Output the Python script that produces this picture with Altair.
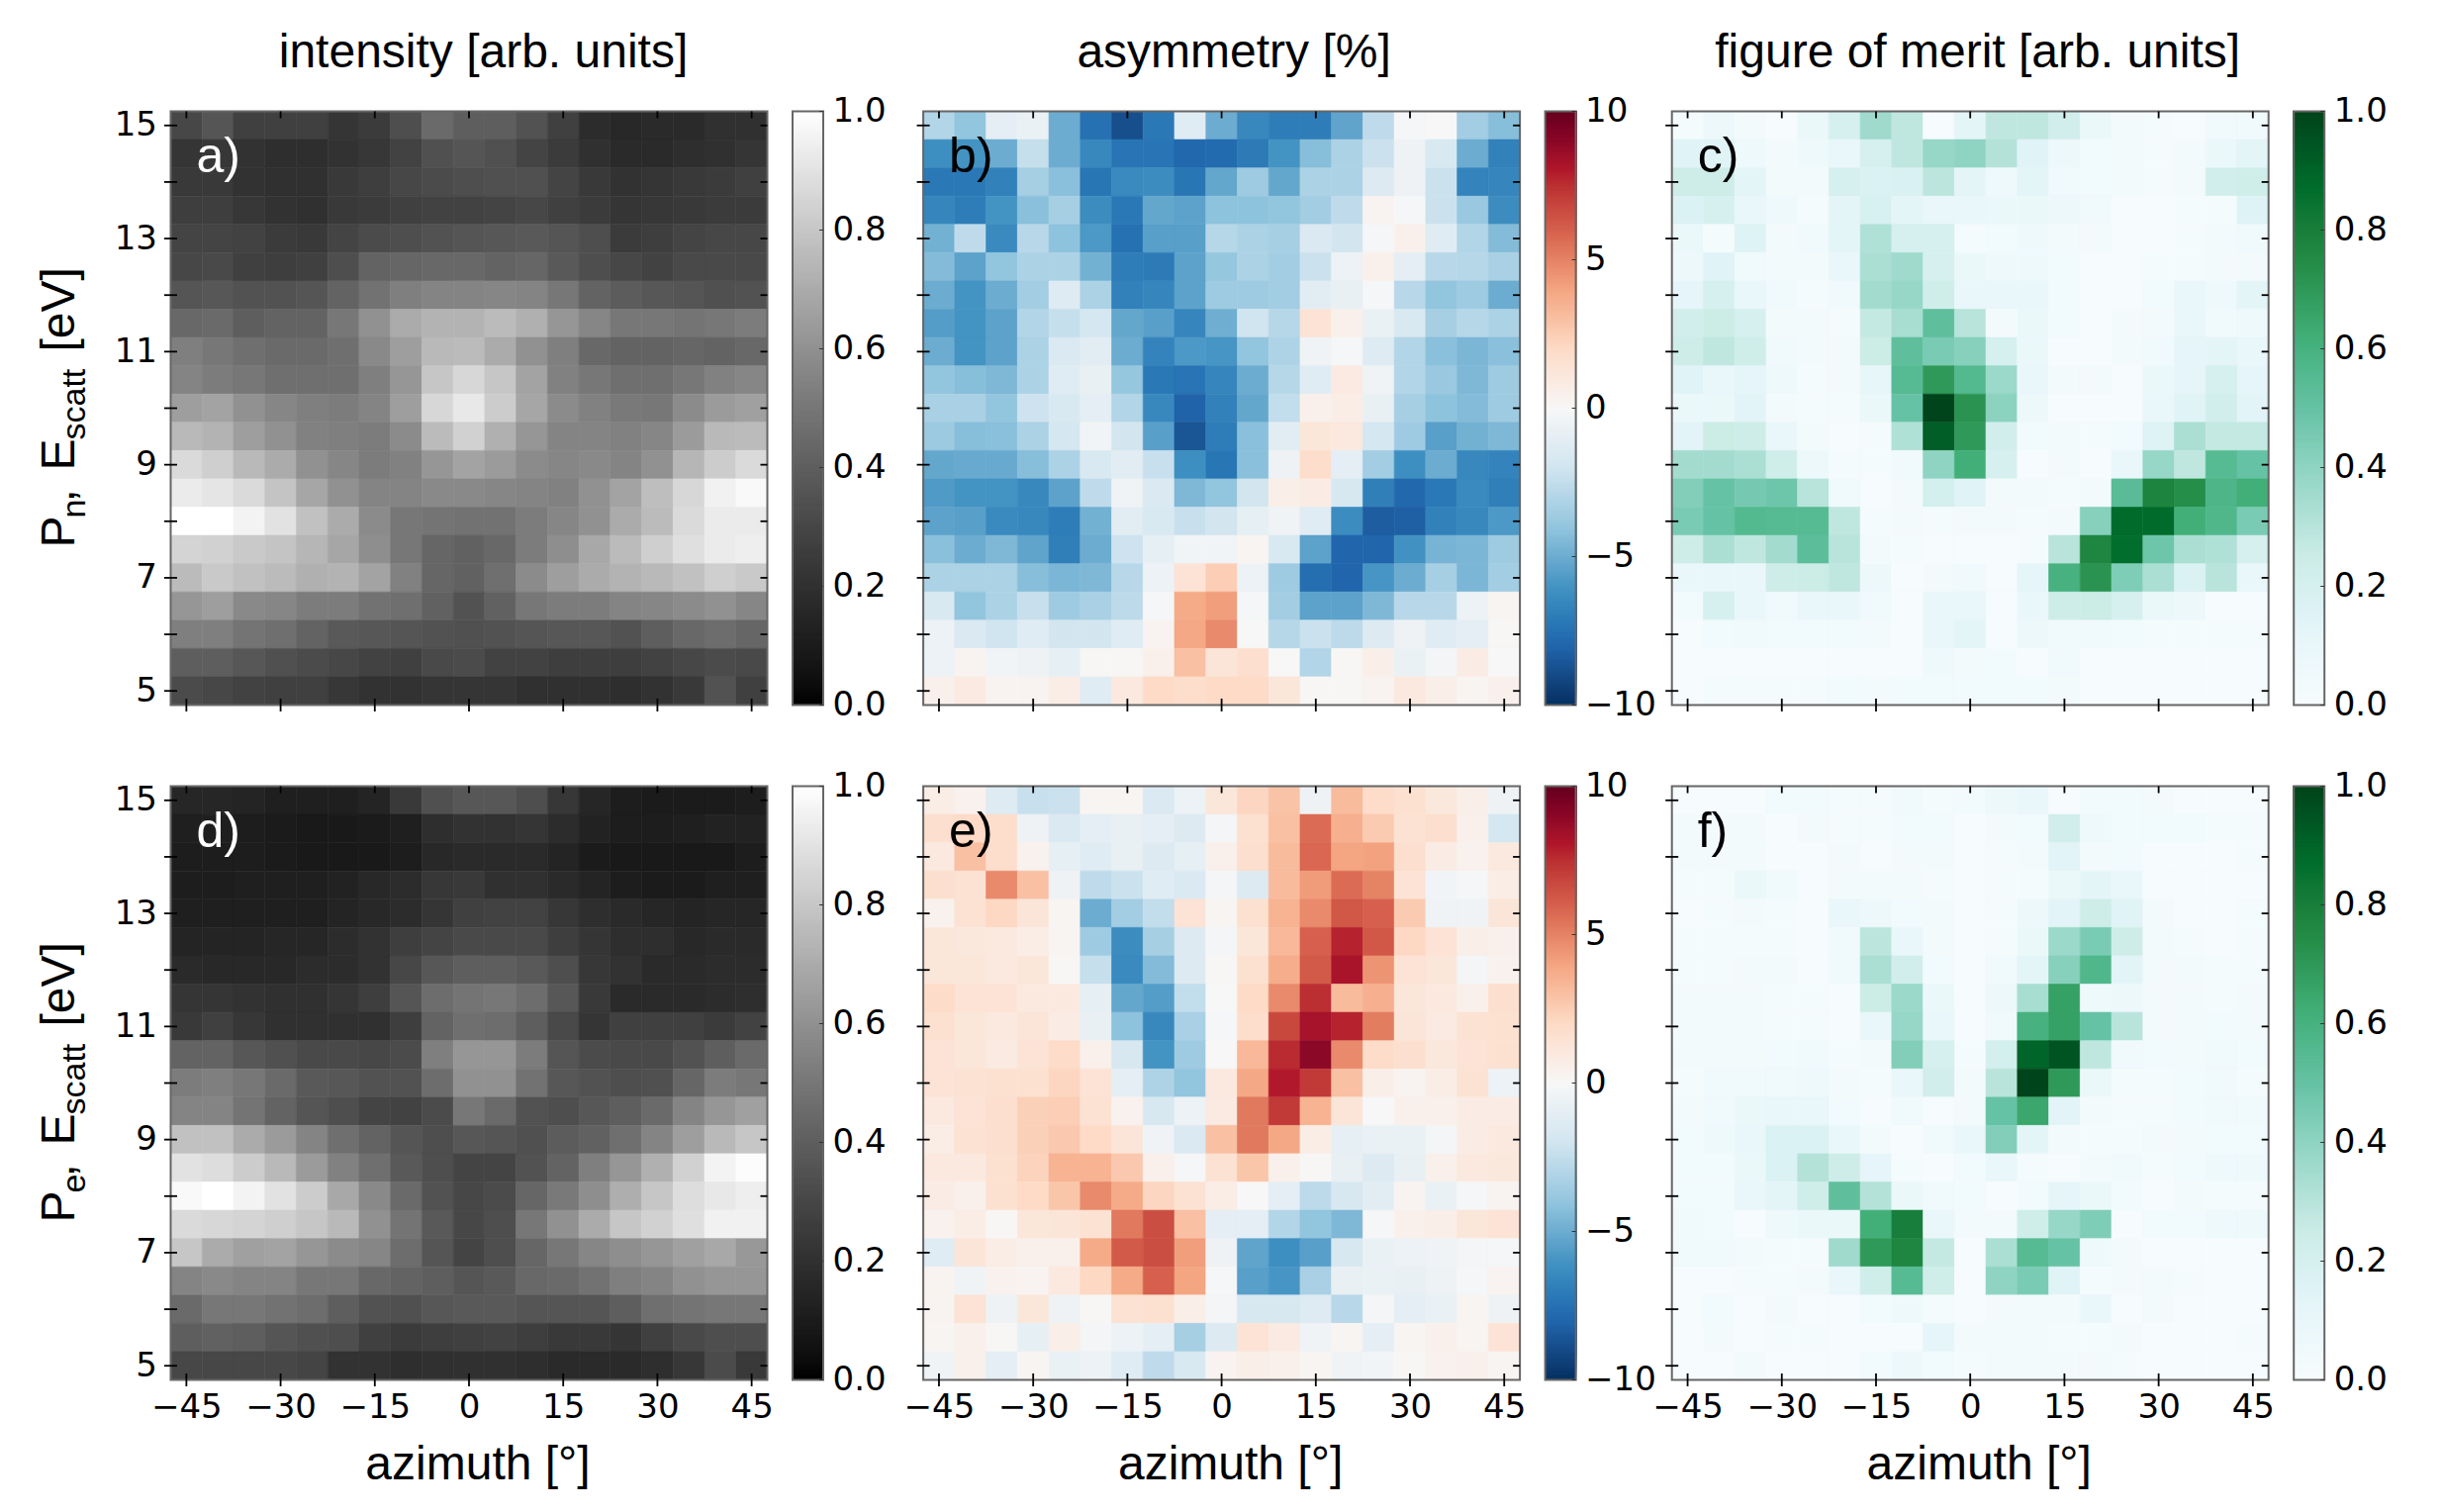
import altair as alt
import numpy as np
import pandas as pd

azimuth = list(range(-45, 50, 5))
energy = [15 - 0.5 * i for i in range(21)]
x_ticks = [-45, -30, -15, 0, 15, 30, 45]
y_ticks = [5, 6, 7, 8, 9, 10, 11, 12, 13, 14, 15]

intensity_n = [
    [.30,.36,.27,.27,.27,.22,.25,.33,.45,.40,.40,.35,.27,.18,.16,.17,.17,.20,.20],
    [.22,.23,.21,.19,.19,.21,.23,.28,.34,.36,.34,.29,.25,.20,.17,.17,.19,.20,.22],
    [.24,.24,.21,.20,.20,.24,.26,.30,.32,.33,.34,.34,.29,.24,.21,.22,.24,.25,.27],
    [.26,.26,.23,.21,.20,.24,.25,.27,.28,.28,.29,.30,.27,.25,.22,.23,.24,.25,.25],
    [.29,.29,.28,.25,.24,.29,.32,.33,.35,.36,.37,.38,.36,.33,.25,.26,.29,.30,.30],
    [.30,.31,.27,.26,.27,.33,.42,.43,.44,.44,.42,.43,.38,.33,.30,.28,.31,.31,.31],
    [.36,.37,.35,.35,.36,.42,.48,.53,.55,.55,.56,.55,.50,.42,.39,.37,.36,.34,.35],
    [.44,.45,.40,.42,.42,.50,.60,.70,.73,.73,.76,.72,.62,.56,.50,.50,.49,.50,.52],
    [.53,.50,.47,.45,.45,.47,.57,.65,.75,.76,.70,.60,.53,.44,.42,.42,.43,.42,.44],
    [.55,.52,.50,.47,.47,.47,.53,.62,.80,.86,.80,.67,.54,.50,.47,.47,.50,.54,.56],
    [.65,.67,.60,.56,.53,.52,.55,.65,.86,.92,.82,.68,.58,.54,.51,.50,.58,.64,.66],
    [.75,.73,.65,.60,.54,.53,.52,.58,.76,.84,.72,.62,.55,.55,.54,.56,.64,.75,.76],
    [.87,.83,.75,.70,.60,.56,.52,.54,.62,.67,.64,.58,.56,.57,.55,.60,.74,.82,.87],
    [.93,.91,.87,.79,.68,.60,.55,.55,.57,.57,.56,.55,.54,.60,.67,.77,.86,.95,.98],
    [1.0,1.0,.96,.90,.78,.70,.58,.50,.49,.48,.48,.52,.56,.60,.70,.76,.87,.93,.93],
    [.85,.84,.81,.79,.74,.68,.59,.50,.43,.41,.44,.52,.59,.69,.76,.83,.89,.93,.94],
    [.76,.81,.78,.76,.72,.73,.67,.54,.43,.41,.47,.58,.65,.70,.73,.75,.78,.83,.81],
    [.62,.65,.57,.56,.52,.52,.48,.47,.41,.35,.41,.50,.52,.52,.55,.56,.58,.60,.56],
    [.53,.53,.49,.47,.42,.38,.37,.36,.35,.34,.35,.36,.37,.37,.35,.40,.44,.46,.43],
    [.40,.40,.37,.34,.32,.30,.28,.27,.31,.32,.28,.28,.26,.26,.26,.28,.30,.32,.31],
    [.32,.30,.28,.27,.27,.23,.21,.21,.22,.22,.22,.20,.20,.20,.19,.21,.24,.35,.27],
]

asym_n = [
    [-3,-4,-1,-.7,-5,-7.5,-8.8,-7.2,-1.2,-5,-6.5,-7,-7,-5.3,-2.6,-.1,0,-3.5,-4.3],
    [-6.2,-6,-5,-2.4,-5,-6.5,-7.4,-7.4,-7.9,-7.8,-7.1,-6,-4.3,-3.2,-2.2,-.5,-1.6,-5,-6.8],
    [-7.2,-7.2,-6.8,-3.4,-4.2,-7.3,-6.4,-6.3,-7.3,-5.2,-3.6,-5.2,-3.2,-3.2,-1.4,-.5,-2.2,-6.7,-6.6],
    [-6.6,-7,-6,-4.2,-3.4,-6.3,-7.2,-5.2,-5.4,-4.1,-4.1,-4,-3.5,-2.6,.3,-.1,-2.2,-3.8,-6.3],
    [-4.8,-2.6,-6.4,-2.8,-4.1,-5.8,-7.5,-5.5,-5.5,-2.9,-3.2,-3.4,-1.5,-1.9,-.1,.5,-1.2,-3,-4.4],
    [-4.4,-5.4,-4,-3.2,-3.2,-4.8,-7,-7.1,-5.4,-3.9,-3.2,-3.5,-2.2,-.6,.5,-1,-2.8,-2.9,-3.3],
    [-5,-6,-5,-3.5,-1.3,-3.2,-6.8,-6.6,-5.4,-3.6,-3.6,-3.5,-1.1,-.8,-.1,-2.8,-4,-3.6,-5],
    [-5.6,-6,-5.4,-3,-2.4,-1.8,-5.2,-5.5,-6.6,-4.9,-2,-2.9,1.4,.5,-.7,-1.6,-3.4,-2.9,-3.2],
    [-5,-6,-5.4,-3.2,-1.5,-1.1,-5,-6.7,-5.8,-5.9,-4,-3.1,-.4,-.1,-1.3,-3,-4.2,-4.6,-4.2],
    [-4,-4.3,-4.5,-3.2,-1.2,-.8,-3.9,-7.2,-7.4,-6.6,-5,-2.9,-1.2,.9,-.4,-3,-3.8,-4.5,-3.6],
    [-3.3,-3.3,-4,-2.1,-1.6,-1,-3,-6.5,-8.1,-6.8,-5.2,-2.5,.5,.7,-.8,-3.4,-4.1,-4.4,-3.6],
    [-3.7,-4.3,-4.2,-3.2,-1.8,-.3,-1.9,-5.5,-8.6,-7,-4.2,-1.1,1.2,1,-1.8,-3.6,-5.5,-4.8,-4.5],
    [-5.2,-5.1,-5.1,-4.3,-3.2,-1.6,-1.1,-2.3,-6.2,-7.3,-4.2,-.5,1.8,-1,-3.5,-6.2,-5,-6.5,-6.7],
    [-5.7,-6,-6,-6.5,-5.4,-2.6,-.4,-1.5,-4.5,-4,-1.9,.6,.8,-1.7,-6.9,-7.9,-7.2,-6.4,-6.9],
    [-5.4,-5.5,-6.4,-6.5,-7,-4.8,-1.1,-1.6,-2.3,-1.9,-.9,-.4,-1.2,-6.3,-8.3,-8.2,-6.8,-6.5,-5.8],
    [-4.2,-5,-4.5,-5.3,-6.9,-5,-2.1,-.9,-.3,-.3,.2,-1.6,-5.4,-8,-8,-6.1,-4.7,-4.6,-3.6],
    [-3.2,-3.2,-3.2,-4.3,-4.6,-4.5,-2.8,-.6,1.4,2.5,-.6,-3.6,-7.6,-8,-5.9,-5,-3.4,-4.6,-3.5],
    [-1.6,-4,-3.2,-2.3,-3.6,-3.3,-2.7,-.1,3.8,4.2,-.1,-3.5,-5.4,-5.4,-4.5,-2.8,-2.8,-.6,.2],
    [-.6,-1.5,-2,-1.2,-1.9,-1.9,-1.2,.3,3.9,4.8,0,-2.9,-2.2,-2.7,-1.4,-.5,-1.2,-1,.1],
    [-.6,.3,-.3,-.5,-.9,.1,.1,.5,3,1.3,1.7,0,-3,.1,.6,-.7,-.2,.8,0],
    [.5,.9,.3,.3,.7,-1.2,1,2,1.8,2,2,1.2,.1,.1,.3,1,.6,.2,.5],
]

merit_n = [
    [.02,.07,.03,.01,.08,.2,.36,.28,.01,.13,.28,.28,.22,.08,.03,.02,.01,.05,.05],
    [.15,.15,.06,.03,.06,.1,.2,.28,.38,.4,.31,.15,.07,.04,.03,.02,.03,.08,.13],
    [.24,.24,.13,.03,.03,.2,.17,.18,.29,.13,.06,.13,.05,.04,.03,.02,.03,.22,.23],
    [.17,.2,.1,.06,.02,.13,.19,.13,.1,.09,.08,.08,.07,.05,.01,.01,.02,.02,.16],
    [.08,.02,.16,.03,.05,.13,.32,.2,.2,.02,.04,.06,.03,.03,.01,.01,.02,.03,.05],
    [.07,.15,.05,.03,.03,.1,.33,.36,.2,.08,.06,.06,.04,.01,.01,.02,.02,.03,.03],
    [.12,.2,.1,.05,.02,.05,.35,.38,.23,.1,.1,.1,.04,.01,.01,.04,.09,.06,.13],
    [.22,.25,.2,.03,.03,.02,.27,.34,.52,.3,.03,.08,.04,.01,.03,.03,.1,.05,.06],
    [.24,.28,.23,.05,.03,.03,.25,.52,.45,.42,.2,.08,.01,.01,.03,.05,.12,.13,.1],
    [.15,.1,.12,.06,.02,.03,.11,.55,.7,.56,.37,.09,.03,.03,.01,.08,.12,.2,.12],
    [.08,.08,.14,.03,.02,.02,.08,.5,1.0,.72,.41,.07,.01,.01,.01,.09,.15,.22,.14],
    [.14,.25,.24,.09,.03,.01,.02,.32,.92,.7,.22,.04,.03,.02,.04,.16,.33,.27,.27],
    [.35,.35,.33,.23,.07,.02,.02,.05,.4,.62,.2,.01,.03,.01,.09,.38,.28,.55,.5],
    [.43,.5,.46,.48,.3,.05,.01,.03,.21,.15,.03,.03,.02,.03,.54,.78,.74,.58,.62],
    [.45,.5,.56,.55,.55,.28,.02,.03,.02,.03,.03,.02,.03,.42,.88,.88,.62,.57,.45],
    [.24,.33,.28,.35,.53,.3,.03,.02,.01,.01,.01,.02,.3,.77,.87,.48,.33,.32,.2],
    [.09,.09,.09,.24,.25,.28,.07,.01,.03,.05,.01,.12,.6,.72,.44,.33,.17,.3,.1],
    [.04,.2,.09,.05,.1,.09,.05,.01,.1,.1,.01,.09,.24,.25,.2,.08,.07,.01,.01],
    [.01,.04,.05,.04,.04,.04,.03,.01,.1,.13,.01,.07,.05,.05,.04,.02,.02,.02,.02],
    [.01,.01,.01,.01,.01,.01,.01,.01,.06,.03,.04,.01,.05,.01,.01,.01,.01,.01,.01],
    [.01,.02,.02,.02,.02,.04,.03,.04,.04,.04,.04,.04,.03,.01,.01,.01,.01,.01,.01],
]

intensity_e = [
    [.15,.15,.14,.12,.12,.12,.14,.24,.34,.37,.37,.33,.23,.15,.11,.10,.10,.10,.11],
    [.12,.12,.11,.10,.09,.09,.10,.12,.19,.21,.21,.22,.18,.13,.11,.11,.12,.13,.13],
    [.11,.11,.11,.10,.09,.09,.09,.11,.16,.17,.17,.17,.14,.10,.09,.09,.09,.09,.11],
    [.11,.11,.12,.12,.12,.13,.16,.18,.23,.24,.20,.20,.17,.14,.11,.10,.10,.12,.12],
    [.12,.12,.12,.12,.12,.14,.16,.18,.22,.27,.28,.28,.23,.19,.17,.15,.14,.15,.15],
    [.14,.14,.14,.15,.15,.18,.21,.26,.29,.31,.31,.31,.26,.22,.19,.19,.16,.17,.17],
    [.17,.16,.16,.16,.18,.18,.21,.30,.37,.40,.40,.38,.33,.23,.21,.17,.17,.18,.18],
    [.22,.22,.21,.20,.20,.22,.26,.36,.46,.49,.50,.46,.37,.24,.17,.17,.17,.18,.19],
    [.24,.27,.23,.20,.20,.20,.20,.26,.42,.47,.46,.40,.31,.22,.27,.27,.27,.25,.28],
    [.42,.42,.37,.34,.31,.31,.30,.32,.53,.62,.62,.52,.36,.32,.31,.31,.35,.40,.45],
    [.52,.53,.50,.45,.38,.37,.35,.35,.46,.60,.60,.48,.37,.35,.33,.34,.43,.52,.50],
    [.55,.55,.49,.42,.36,.33,.29,.28,.32,.50,.45,.35,.33,.37,.40,.45,.55,.62,.66],
    [.78,.78,.70,.64,.55,.47,.42,.36,.33,.37,.36,.34,.39,.41,.47,.55,.65,.75,.80],
    [.90,.88,.82,.75,.64,.54,.47,.38,.33,.29,.29,.35,.42,.53,.62,.72,.84,.96,.99],
    [.98,1.0,.96,.90,.82,.69,.57,.45,.35,.30,.32,.43,.51,.59,.71,.80,.88,.92,.94],
    [.87,.86,.85,.83,.80,.75,.60,.49,.38,.30,.33,.50,.60,.70,.80,.84,.89,.95,.95],
    [.80,.70,.66,.67,.62,.58,.56,.46,.36,.29,.33,.43,.50,.56,.59,.62,.66,.69,.63],
    [.55,.57,.55,.55,.50,.50,.44,.42,.40,.36,.38,.44,.45,.48,.53,.55,.60,.62,.62],
    [.45,.50,.50,.48,.46,.40,.35,.34,.37,.38,.38,.36,.36,.36,.40,.47,.49,.50,.50],
    [.40,.41,.40,.36,.34,.33,.27,.25,.26,.27,.28,.26,.24,.24,.22,.27,.31,.33,.33],
    [.30,.30,.30,.30,.29,.21,.21,.19,.20,.20,.20,.19,.17,.17,.17,.19,.23,.32,.24],
]

asym_e = [
    [.7,.4,-1.3,-2.3,-2.2,.2,.2,-1.5,-.6,1.2,2.2,2.9,-.5,3.2,1.9,1.6,1.1,.6,-.5],
    [1.7,2,1.8,-.5,-1.5,-1,-.8,-1,-1.4,-.2,1.6,3,5.7,3.6,2.6,1.5,1.7,.5,-1.8],
    [1,3,1.8,.4,-.9,-1.2,-.8,-1.4,-.9,.5,1.7,3.2,5.8,4,4.1,1.7,.8,.4,1],
    [1.7,1.5,4.8,3,-.5,-2.6,-2.2,-1.2,-1.5,-.2,-1.4,3.2,4.3,5.7,5,1.4,-.3,-.1,.7],
    [.4,1.5,2.1,1.3,.2,-5,-3.5,-2.5,1.4,.2,1.6,3.5,4.8,6.3,6,2.6,-.4,-.4,1.3],
    [1.2,1.1,1,.7,.2,-3.6,-6.3,-3.4,-1.4,-.2,1.2,3.3,6,7.8,6.3,2.1,1.4,.6,.5],
    [1.2,1.2,1,1.2,.1,-2.4,-6.4,-4.4,-1.4,.1,1.6,3.7,6.2,8.2,4.5,1.4,1.2,-.2,.4],
    [1.9,1.4,1.4,1,1,-.9,-5.2,-5.6,-2.5,0,2,4.8,7.5,3.2,3.6,1.2,1,.5,1.7],
    [1.6,1.2,1,1.3,.8,-.8,-4.1,-6.5,-3.3,-.1,1.8,6.8,8.3,7.8,5.2,1.3,.9,1.5,1.6],
    [1.4,1.2,.9,1.4,1.9,.5,-1.7,-6,-3.6,0,3.3,7.6,9,4.8,1.9,1.7,1.1,1.4,1.6],
    [1.4,1.5,1.6,1.6,2.2,1.4,-1,-3.1,-4,1,3.9,8,7.2,3,.6,.3,.7,1.5,-.6],
    [1,1.4,1.7,2.4,2.5,1.5,.4,-1.7,-.6,.9,5.3,7.2,3.5,1.3,0,.5,.5,.8,.8],
    [.7,1.5,1.7,2.4,2.7,2,1.3,-.4,-1.5,3,5.3,3.9,.7,-.9,-.7,-.7,-.2,.8,1],
    [1,1,1.6,2.3,3.5,3.5,2.7,.5,-.1,1.5,2.8,.5,.1,-.8,-1.4,-.8,.5,1,1.1],
    [.8,.5,1.6,2,2.8,4.8,3.8,2.2,1.5,.7,0,-1,-2.7,-1.7,-1.1,.3,-.7,-.1,.3],
    [.4,.7,.1,1.2,1.3,1.5,5.3,6.6,3,-1,-1,-3,-4,-4.5,-.1,.5,.6,1.2,1.4],
    [-1.2,1.3,.7,.5,.5,3.8,6.2,6.6,4.2,-.5,-5.3,-6.2,-5.5,-1.7,-.7,-.6,-.4,-.2,-.1],
    [.3,-.4,.4,.3,1,2.1,3.8,6,4,-.1,-5.5,-5.9,-3.3,-.8,-.7,-.8,-.5,-.1,.3],
    [.3,1.4,-.5,1.2,-.5,.1,1.5,1.6,.6,-.2,-1.7,-1.7,-1.3,-2.8,-.2,-1,-.7,.2,-.5],
    [.2,.5,.1,-.9,.6,-.2,-.6,-1,-3.4,-1.4,1.4,.9,-.4,.2,-1,.2,.5,.2,1.4],
    [-.4,.5,-1,.2,-.7,-.6,-1.2,-2.6,-1.6,.3,.6,.5,.2,-.4,-.3,.1,.4,.5,.2],
]

merit_e = [
    [.01,.01,.01,.04,.04,.02,.02,.05,.02,.04,.07,.09,.01,.04,.04,.03,.01,.01,.01],
    [.03,.03,.03,.01,.03,.02,.02,.04,.04,.01,.03,.04,.22,.06,.04,.04,.04,.02,.02],
    [.03,.03,.03,.01,.01,.03,.01,.03,.03,.01,.02,.03,.14,.03,.04,.01,.01,.01,.02],
    [.02,.02,.08,.05,.01,.03,.03,.03,.02,.01,.02,.02,.08,.13,.09,.01,.01,.01,.01],
    [.01,.02,.03,.02,.01,.1,.07,.04,.03,.01,.02,.07,.14,.24,.15,.03,.01,.01,.02],
    [.02,.02,.02,.02,.01,.05,.29,.09,.03,.01,.02,.08,.37,.45,.24,.03,.02,.01,.02],
    [.02,.02,.03,.03,.01,.05,.33,.22,.04,.01,.05,.13,.42,.57,.14,.03,.03,.02,.02],
    [.03,.03,.03,.02,.02,.01,.25,.37,.08,.01,.07,.34,.67,.06,.07,.03,.03,.02,.03],
    [.03,.03,.03,.02,.02,.01,.09,.38,.1,.01,.05,.6,.67,.5,.3,.03,.03,.04,.03],
    [.03,.03,.03,.04,.05,.02,.03,.43,.2,.02,.21,.9,.95,.28,.05,.04,.03,.05,.04],
    [.02,.05,.05,.05,.06,.03,.02,.1,.22,.03,.3,1.0,.7,.08,.02,.02,.04,.05,.02],
    [.03,.05,.08,.1,.1,.04,.01,.05,.01,.03,.5,.65,.14,.03,.02,.02,.04,.05,.05],
    [.04,.06,.09,.17,.17,.09,.03,.01,.05,.1,.43,.13,.03,.02,.02,.03,.03,.04,.04],
    [.04,.04,.08,.17,.31,.24,.12,.02,.01,.04,.1,.02,.01,.03,.05,.02,.04,.06,.06],
    [.04,.04,.09,.13,.23,.52,.31,.08,.05,.04,.01,.04,.12,.08,.04,.01,.03,.02,.02],
    [.05,.04,.01,.06,.08,.08,.62,.8,.09,.03,.03,.23,.38,.44,.01,.04,.04,.06,.06],
    [.05,.05,.03,.02,.02,.36,.7,.77,.27,.01,.33,.55,.5,.06,.03,.01,.01,.01,.01],
    [.01,.01,.02,.02,.03,.09,.23,.55,.23,.01,.4,.45,.15,.02,.03,.03,.02,.01,.01],
    [.01,.04,.01,.03,.01,.01,.04,.06,.02,.01,.03,.03,.03,.09,.01,.03,.01,.01,.01],
    [.01,.03,.01,.02,.02,.01,.01,.01,.12,.03,.03,.03,.02,.02,.03,.01,.01,.01,.02],
    [.01,.01,.03,.01,.01,.01,.04,.07,.04,.02,.03,.03,.03,.03,.02,.01,.01,.01,.01],
]

gray_scale = alt.Scale(domain=[0, 1], range=["#000000", "#ffffff"])
rdbu_scale = alt.Scale(
    domain=[-10, -8, -6, -4, -2, 0, 2, 4, 6, 8, 10],
    range=["#053061", "#2166ac", "#4393c3", "#92c5de", "#d1e5f0", "#f7f7f7",
           "#fddbc7", "#f4a582", "#d6604d", "#b2182b", "#67001f"],
)
bugn_scale = alt.Scale(
    domain=[0, .125, .25, .375, .5, .625, .75, .875, 1],
    range=["#f7fcfd", "#e5f5f9", "#ccece6", "#99d8c9", "#66c2a4",
           "#41ae76", "#238b45", "#006d2c", "#00441b"],
)

W = 603
H = 600
CB_LEFT = W + 25.5
CB_RIGHT = CB_LEFT + 31
SANS = "Liberation Sans"
TICKS = "DejaVu Sans"
TICK_SIZE = 34
TEXT_SIZE = 48
SUB_SIZE = 34
BORDER = "#666666"


def text_layer(text, x, y, size=TEXT_SIZE, color="black", angle=0, align="left"):
    return alt.Chart(pd.DataFrame({"t": [text]})).mark_text(
        font=SANS, fontSize=size, color=color, angle=angle, align=align,
        baseline="alphabetic",
    ).encode(x=alt.value(x), y=alt.value(y), text="t:N")


def border_layer(x0, x1):
    return alt.Chart(pd.DataFrame({"a": [0]})).mark_rect(
        filled=False, stroke=BORDER, strokeWidth=2,
    ).encode(x=alt.value(x0), x2=alt.value(x1), y=alt.value(0), y2=alt.value(H))


def panel(values, scale, low, high, bar_ticks, letter, letter_color, heading=None,
          heading_x=0, sub=None, bottom=False, cell_w=W):
    rows = []
    for e, row in zip(energy, values):
        for a, v in zip(azimuth, row):
            rows.append({"x0": a - 2.5, "x1": a + 2.5, "y0": e - 0.25, "y1": e + 0.25, "v": v})
    df = pd.DataFrame(rows)

    x_scale = alt.Scale(domain=[-47.5, 47.5], nice=False, zero=False, range=[0, W])
    y_scale = alt.Scale(domain=[4.75, 15.25], nice=False, zero=False)

    x_axis = alt.Axis(
        values=x_ticks, ticks=False, domain=False, grid=False, labels=bottom,
        labelFont=TICKS, labelFontSize=TICK_SIZE, labelColor="black", labelPadding=11,
        labelFlush=False, labelBound=False, labelOverlap=False,
        title="azimuth [°]" if bottom else "", titleFont=SANS, titleFontSize=TEXT_SIZE,
        titleFontWeight="normal", titleColor="black", titleX=310, titleY=100,
        titleBaseline="alphabetic", titleAlign="center",
    )
    y_axis = alt.Axis(
        values=y_ticks, ticks=False, domain=False, grid=False, labels=sub is not None,
        labelExpr="datum.value % 2 == 1 ? datum.label : ''",
        labelFont=TICKS, labelFontSize=TICK_SIZE, labelColor="black", labelPadding=14,
        labelFlush=False, labelBound=False, labelOverlap=False, title="",
    )

    layers = [
        alt.Chart(df).mark_rect(strokeWidth=0.6).encode(
            x=alt.X("x0:Q", scale=x_scale, axis=x_axis),
            x2="x1:Q",
            y=alt.Y("y0:Q", scale=y_scale, axis=y_axis),
            y2="y1:Q",
            color=alt.Color("v:Q", scale=scale, legend=None),
            stroke=alt.Stroke("v:Q", scale=scale, legend=None),
        ),
        border_layer(0, W),
    ]

    xt = pd.DataFrame({"x": x_ticks})
    yt = pd.DataFrame({"y": y_ticks})
    for y0, y1 in [(H - 6.5, H + 6.5), (0, 7)]:
        layers.append(alt.Chart(xt).mark_rule(color="black", strokeWidth=1.8).encode(
            x=alt.X("x:Q", scale=x_scale, axis=x_axis), y=alt.value(y0), y2=alt.value(y1)))
    for x0, x1 in [(-6.5, 6.5), (W - 7, W)]:
        layers.append(alt.Chart(yt).mark_rule(color="black", strokeWidth=1.8).encode(
            y=alt.Y("y:Q", scale=y_scale, axis=None), x=alt.value(x0), x2=alt.value(x1)))

    layers.append(text_layer(letter, 26, 61, size=50, color=letter_color))
    if heading:
        layers.append(text_layer(heading, heading_x, -45, align="center"))
    if sub:
        # y label is put together from pieces because of the subscripts
        layers.append(text_layer("P", -97.5, 441, angle=270))
        layers.append(text_layer(sub, -87, 411, size=SUB_SIZE, angle=270))
        layers.append(text_layer(",", -97.5, 395, angle=270))
        layers.append(text_layer("E", -97.5, 363, angle=270))
        layers.append(text_layer("scatt", -87, 332, size=SUB_SIZE, angle=270))
        layers.append(text_layer("[eV]", -97.5, 243, angle=270))

    # colorbar sits in the same view, with its own y scale and right axis
    # each level reaches up to the top and is painted over by the next, so no seams
    levels = np.linspace(low, high, 257)
    bar_df = pd.DataFrame({"y0": levels[:-1], "y1": high})
    bar_df["v"] = (levels[:-1] + levels[1:]) / 2
    bar_y = alt.Scale(domain=[low, high], nice=False, zero=False)
    bar_axis = alt.Axis(
        orient="right", values=bar_ticks, ticks=False, domain=False, grid=False,
        offset=CB_RIGHT + 9 - cell_w,
        labelFont=TICKS, labelFontSize=TICK_SIZE, labelColor="black", labelPadding=0,
        labelFlush=False, labelBound=False, labelOverlap=False, title="",
    )
    layers.append(alt.Chart(bar_df).mark_rect().encode(
        x=alt.value(CB_LEFT), x2=alt.value(CB_RIGHT),
        y=alt.Y("y0:Q", scale=bar_y, axis=bar_axis),
        y2="y1:Q",
        color=alt.Color("v:Q", scale=scale, legend=None),
        stroke=alt.Stroke("v:Q", scale=scale, legend=None),
        order=alt.Order("y0:Q", sort="ascending"),
    ))
    layers.append(border_layer(CB_LEFT, CB_RIGHT))
    layers.append(alt.Chart(pd.DataFrame({"y": bar_ticks})).mark_rule(color="#333333", strokeWidth=1).encode(
        y=alt.Y("y:Q", scale=bar_y, axis=None), x=alt.value(CB_RIGHT - 4), x2=alt.value(CB_RIGHT)))

    return alt.layer(*layers).resolve_scale(y="independent").properties(width=cell_w, height=H)


gray_ticks = [0, .2, .4, .6, .8, 1]
rdbu_ticks = [-10, -5, 0, 5, 10]
first_w = 607

panels = [
    panel(intensity_n, gray_scale, 0, 1, gray_ticks, "a)", "white",
          heading="intensity [arb. units]", heading_x=316, sub="n", cell_w=first_w),
    panel(asym_n, rdbu_scale, -10, 10, rdbu_ticks, "b)", "black",
          heading="asymmetry [%]", heading_x=314),
    panel(merit_n, bugn_scale, 0, 1, gray_ticks, "c)", "black",
          heading="figure of merit [arb. units]", heading_x=309),
    panel(intensity_e, gray_scale, 0, 1, gray_ticks, "d)", "white", sub="e", bottom=True, cell_w=first_w),
    panel(asym_e, rdbu_scale, -10, 10, rdbu_ticks, "e)", "black", bottom=True),
    panel(merit_e, bugn_scale, 0, 1, gray_ticks, "f)", "black", bottom=True),
]

chart = alt.concat(
    *panels, columns=3, spacing=alt.RowColnumber(row=82, column=153.6), bounds="flush"
).resolve_scale(color="independent", stroke="independent").properties(
    padding={"left": 28.5, "top": 21.5, "right": 10, "bottom": 10}, background="white"
).configure_view(strokeWidth=0)

chart.save("out.html", embed_options={"renderer": "svg", "actions": False})
